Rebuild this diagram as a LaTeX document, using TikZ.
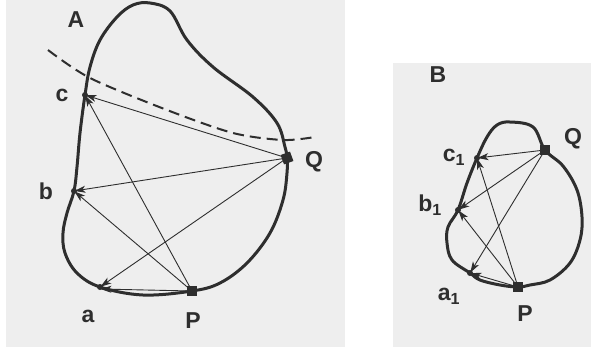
\documentclass[tikz,border=0pt]{standalone}
\usepackage{fontspec}
\setmainfont{Liberation Sans}
\usetikzlibrary{arrows.meta}
\definecolor{ink}{HTML}{2E2E2E}
\definecolor{bg}{HTML}{EEEEEE}
\begin{document}
\begin{tikzpicture}[x=1pt,y=-1pt,
  outline/.style={line width=3pt, draw=ink, line join=round},
  ray/.style={draw=ink, line width=0.9pt, -{Stealth[length=11pt,width=7pt,inset=3pt]}, shorten >=0.5pt},
  dashcurve/.style={draw=ink, line width=2pt, dash pattern=on 11pt off 6pt},
  lbl/.style={font=\fontsize{23}{23}\selectfont\bfseries, text=ink, inner sep=0pt},
  sq/.style={fill=ink, minimum size=10pt, inner sep=0pt, draw=none},
  dot/.style={circle, fill=ink, minimum size=6pt, inner sep=0pt}]
\useasboundingbox (0,0) rectangle (591,348);
\fill[bg] (6,0) rectangle (345,347);
\fill[bg] (393,63) rectangle (591,347);
% ---------- Panel A ----------
\draw[outline] plot[smooth cycle, tension=0.6] coordinates {
  (150,3) (170,11) (187,40) (213,67) (253,97) (277,123) (285,147) (287,158)
  (287,173) (283,200) (270,233) (247,263) (220,283) (192,291) (143,295)
  (100,287) (77,273) (65,253) (63,233) (67,213) (74,191) (77,167) (80,133)
  (85,95) (90,67) (100,40) (117,17) (133,5)};
\draw[dashcurve] plot[smooth] coordinates {(48,50) (90,78) (167,110) (233,133) (283,140) (315,137)};
\node[dot] (c) at (85,95) {};
\node[dot] (b) at (74,191) {};
\node[dot] (a) at (100,287) {};
\node[sq] (P) at (192,291) {};
\node[sq, rotate=20] (Q) at (287,158) {};
\draw[ray] (Q.center) -- (c.center);
\draw[ray] (Q.center) -- (b.center);
\draw[ray] (Q.center) -- (a.center);
\draw[ray] (P.center) -- (c.center);
\draw[ray] (P.center) -- (b.center);
\draw[ray] (P.center) -- ([yshift=-2pt]a.center);
\node[lbl] (lA) at (76,20) {A};
\node[lbl] (lc) at (62,95) {c};
\node[lbl] (lb) at (46,191) {b};
\node[lbl] (la) at (88,316) {a};
\node[lbl] (lP) at (193,321) {P};
\node[lbl] (lQ) at (314,162) {Q};
% ---------- Panel B ----------
\draw[outline] plot[smooth cycle, tension=0.6] coordinates {
  (510,122) (533,127) (545,150) (563,166) (577,190) (582,217) (580,240)
  (570,263) (550,280) (530,285) (518,287) (500,285) (480,280) (470,273)
  (452,260) (447,243) (448,227) (458,210) (467,183) (477,158) (487,137)
  (497,125)};
\node[dot] (c1) at (477,158) {};
\node[dot] (b1) at (458,210) {};
\node[dot] (a1) at (470,273) {};
\node[sq] (P1) at (518,287) {};
\node[sq] (Q1) at (545,150) {};
\draw[ray] (Q1.center) -- (c1.center);
\draw[ray] (Q1.center) -- (b1.center);
\draw[ray] (Q1.center) -- (a1.center);
\draw[ray] (P1.center) -- (c1.center);
\draw[ray] (P1.center) -- (b1.center);
\draw[ray] (P1.center) -- (a1.center);
\node[lbl] (lB) at (438,75) {B};
\node[lbl] (lc1) at (454,157) {c\textsubscript{1}};
\node[lbl] (lb1) at (430,205) {b\textsubscript{1}};
\node[lbl] (la1) at (449,296) {a\textsubscript{1}};
\node[lbl] (lP1) at (525,314) {P};
\node[lbl] (lQ1) at (573,139) {Q};
\end{tikzpicture}
\end{document}
